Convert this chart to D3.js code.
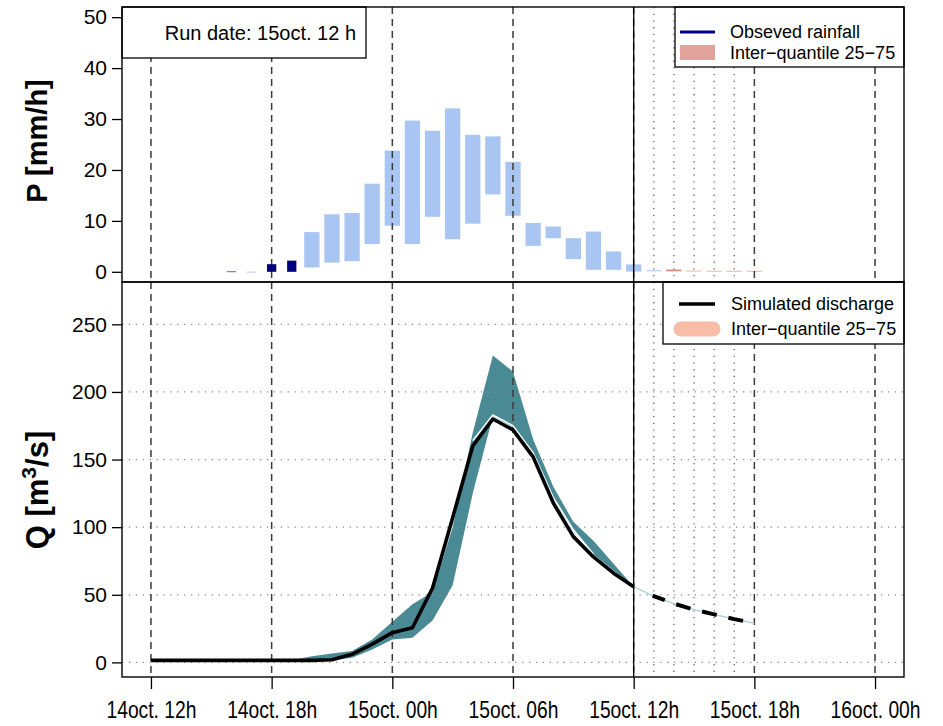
<!DOCTYPE html>
<html><head><meta charset="utf-8">
<script src="https://cdn.jsdelivr.net/npm/d3@7"></script>
<style>
body{margin:0;background:#fff;}
text{font-family:"Liberation Sans",Arial,Helvetica,sans-serif;fill:#000;}
</style>
</head><body><svg id="c" width="943" height="726"></svg>
<script>
// ---------------- data ----------------
const xTickHours = [0, 6, 12, 18, 24, 30, 36];           // hours since 14oct. 12h
const xTickLabels = ["14oct. 12h","14oct. 18h","15oct. 00h","15oct. 06h","15oct. 12h","15oct. 18h","16oct. 00h"];
const pTicks = [0, 10, 20, 30, 40, 50];
const qTicks = [0, 50, 100, 150, 200, 250];
const runHour = 24;
const dottedHours = [25, 26, 27, 28, 29];

// observed rainfall (mm/h)
const obsHours = [4, 5, 6, 7];
const obsRain  = [0.15, 0.05, 1.5, 2.2];

// rainfall inter-quantile 25-75 (past / nowcast, blue)
const pastHours = [8,9,10,11,12,13,14,15,16,17,18,19,20,21,22,23,24,25];
const pastQ25  = [0.85,1.8,2.1,5.45,9.05,5.45,10.8,6.4,9.45,15.2,11.0,5.1,6.6,2.5,0.4,0.4,0.05,0.1];
const pastQ75  = [7.8,11.3,11.55,17.3,23.8,29.7,27.7,32.1,26.9,26.6,21.6,9.6,8.9,6.6,7.9,4.0,1.45,0.3];

// rainfall inter-quantile 25-75 (forecast, pink)
const fcHours = [26, 27, 28, 29, 30];
const fcQ25   = [0.1, 0.1, 0.1, 0.1, 0.1];
const fcQ75   = [0.45, 0.25, 0.2, 0.2, 0.2];

// simulated discharge (m3/s)
const simHours = [0,1,2,3,4,5,6,7,8,9,10,11,12,13,14,15,16,17,18,19,20,21,22,23,24];
const simQ     = [1.5,1.5,1.5,1.5,1.5,1.5,1.5,1.5,1.5,2.0,6,13.5,22,25.6,55,107,160,180,172,152,118,93,78,66,56];

// forecast discharge
const fcSimHours = [24,25,26,27,28,29,30];
const fcSimQ     = [56,49,43.5,39,35.5,32,29];

// discharge inter-quantile band
const bandHours = [7,8,9,10,11,12,13,14,15,16,17,18,19,20,21,22,23,24];
const bandLow   = [1.5,1.5,1.5,3.4,9.6,17,18.2,31,57,125,182,174,154.6,121,97,80,68,56];
const bandHigh  = [1.5,4.5,6.5,8.5,17,30,43,52,100,170,227,215,165,130,104,90,73,56];

// white median trace
const medHours = [16,17,18,19,20,21,22];
const medQ     = [164,183,175,155,122,98,80];

// ---------------- layout ----------------
const svg = d3.select("#c");
const L = 122, R = 904;
const topY0 = 7, topY1 = 282, botY1 = 677;

const x = d3.scaleLinear().domain([-1.44, 37.44]).range([L, R]);
const yP = d3.scaleLinear().domain([-2, 52]).range([topY1, topY0]);
const yQ = d3.scaleLinear().domain([-10.8, 281.3]).range([botY1, topY1]);
const hw = 0.38; // half width of quantile bars (hours)
const ow = 0.23; // half width of observed bars
const dashPat = "7,5";

// ======== TOP PANEL ========
const gT = svg.append("g");
gT.selectAll("rect.past").data(pastHours).join("rect")
  .attr("x", (h) => x(h - hw)).attr("width", (h) => x(h + hw) - x(h - hw))
  .attr("y", (h, i) => yP(pastQ75[i]))
  .attr("height", (h, i) => Math.max(1, yP(pastQ25[i]) - yP(pastQ75[i])))
  .attr("fill", "#a9c6f3");
gT.selectAll("rect.fc").data(fcHours).join("rect")
  .attr("x", (h) => x(h - hw)).attr("width", (h) => x(h + hw) - x(h - hw))
  .attr("y", (h, i) => yP(fcQ75[i]))
  .attr("height", (h, i) => Math.max(1, yP(fcQ25[i]) - yP(fcQ75[i])))
  .attr("fill", (h, i) => i === 0 ? "#dc8c78" : "#efb6ae");

gT.selectAll("line.dash").data(xTickHours).join("line")
  .attr("x1", (h) => x(h)).attr("x2", (h) => x(h))
  .attr("y1", topY0).attr("y2", topY1)
  .attr("stroke", "#3a3a3a").attr("stroke-width", 1.5).attr("stroke-dasharray", dashPat);
gT.selectAll("line.dot").data(dottedHours).join("line")
  .attr("x1", (h) => x(h)).attr("x2", (h) => x(h))
  .attr("y1", topY0).attr("y2", topY1)
  .attr("stroke", "#666").attr("stroke-width", 1.3).attr("stroke-dasharray", "1.3,5.4");

gT.selectAll("rect.obs").data(obsHours).join("rect")
  .attr("x", (h) => x(h - ow)).attr("width", (h) => x(h + ow) - x(h - ow))
  .attr("y", (h, i) => yP(obsRain[i]))
  .attr("height", (h, i) => Math.max(1.2, yP(0) - yP(obsRain[i])))
  .attr("fill", "#00007f")
  .attr("opacity", (h, i) => obsRain[i] < 0.1 ? 0.2 : (obsRain[i] < 0.5 ? 0.5 : 1));

// ======== BOTTOM PANEL ========
const gB = svg.append("g");
const band = d3.area().x((d) => x(d[0])).y0((d) => yQ(d[1])).y1((d) => yQ(d[2]));
gB.append("path")
  .attr("d", band(bandHours.map((h, i) => [h, bandLow[i], bandHigh[i]])))
  .attr("fill", "#4a8a95");

gB.selectAll("line.hg").data(qTicks).join("line")
  .attr("x1", L).attr("x2", R)
  .attr("y1", (v) => yQ(v)).attr("y2", (v) => yQ(v))
  .attr("stroke", "#8a8a8a").attr("stroke-width", 1.3).attr("stroke-dasharray", "1.3,5.6");
gB.selectAll("line.dash").data(xTickHours).join("line")
  .attr("x1", (h) => x(h)).attr("x2", (h) => x(h))
  .attr("y1", topY1).attr("y2", botY1)
  .attr("stroke", "#3a3a3a").attr("stroke-width", 1.5).attr("stroke-dasharray", dashPat);
gB.selectAll("line.dot").data(dottedHours).join("line")
  .attr("x1", (h) => x(h)).attr("x2", (h) => x(h))
  .attr("y1", topY1).attr("y2", botY1)
  .attr("stroke", "#666").attr("stroke-width", 1.3).attr("stroke-dasharray", "1.3,5.4");

svg.append("line").attr("x1", x(runHour)).attr("x2", x(runHour))
  .attr("y1", topY0).attr("y2", botY1).attr("stroke", "#000").attr("stroke-width", 1.3);

const line = d3.line().x((d) => x(d[0])).y((d) => yQ(d[1]));
gB.append("path").attr("d", line(fcSimHours.map((h, i) => [h, fcSimQ[i]])))
  .attr("fill", "none").attr("stroke", "#a9d0d3").attr("stroke-width", 1.2);
gB.append("path").attr("d", line(medHours.map((h, i) => [h, medQ[i]])))
  .attr("fill", "none").attr("stroke", "#fff").attr("stroke-width", 1.6);
gB.append("path").attr("d", line(simHours.map((h, i) => [h, simQ[i]])))
  .attr("fill", "none").attr("stroke", "#000").attr("stroke-width", 3.6)
  .attr("stroke-linejoin", "round");
gB.append("path").attr("d", line(fcSimHours.map((h, i) => [h, fcSimQ[i]])))
  .attr("fill", "none").attr("stroke", "#000").attr("stroke-width", 4)
  .attr("stroke-dasharray", "0,21,13,12,15,12,15,12,15,12");

// ======== BOXES & LEGENDS ========
svg.append("rect").attr("x", L).attr("y", topY0).attr("width", 244).attr("height", 51)
  .attr("fill", "#fff").attr("stroke", "#000").attr("stroke-width", 1.3);
svg.append("text").attr("x", 356).attr("y", 40).attr("text-anchor", "end")
  .attr("font-size", 20).text("Run date: 15oct. 12 h");

const lg1 = svg.append("g");
lg1.append("rect").attr("x", 675).attr("y", topY0).attr("width", R - 675).attr("height", 60)
  .attr("fill", "#fff").attr("stroke", "#000").attr("stroke-width", 1.3);
lg1.append("line").attr("x1", 680).attr("x2", 715).attr("y1", 32).attr("y2", 32)
  .attr("stroke", "#00008b").attr("stroke-width", 3);
lg1.append("text").attr("x", 730).attr("y", 38).attr("font-size", 18).text("Obseved rainfall");
lg1.append("rect").attr("x", 680).attr("y", 45).attr("width", 35).attr("height", 15).attr("fill", "#e3a19b");
lg1.append("text").attr("x", 730).attr("y", 59).attr("font-size", 18).text("Inter\u2212quantile 25\u221275");

const lg2 = svg.append("g");
lg2.append("rect").attr("x", 663).attr("y", topY1).attr("width", R - 663).attr("height", 62)
  .attr("fill", "#fff").attr("stroke", "#000").attr("stroke-width", 1.3);
lg2.append("line").attr("x1", 679).attr("x2", 715).attr("y1", 304).attr("y2", 304)
  .attr("stroke", "#000").attr("stroke-width", 3.5);
lg2.append("text").attr("x", 731).attr("y", 310).attr("font-size", 18).text("Simulated discharge");
lg2.append("line").attr("x1", 681).attr("x2", 713).attr("y1", 329).attr("y2", 329)
  .attr("stroke", "#f9bca6").attr("stroke-width", 15).attr("stroke-linecap", "round");
lg2.append("text").attr("x", 731).attr("y", 335).attr("font-size", 18).text("Inter\u2212quantile 25\u221275");

svg.append("rect").attr("x", L).attr("y", topY0).attr("width", R - L).attr("height", topY1 - topY0)
  .attr("fill", "none").attr("stroke", "#000").attr("stroke-width", 1.4);
svg.append("rect").attr("x", L).attr("y", topY1).attr("width", R - L).attr("height", botY1 - topY1)
  .attr("fill", "none").attr("stroke", "#000").attr("stroke-width", 1.4);

// ======== AXES ========
const axP = svg.append("g").attr("transform", `translate(${L},0)`)
  .call(d3.axisLeft(yP).tickValues(pTicks).tickSize(10).tickPadding(5));
const axQ = svg.append("g").attr("transform", `translate(${L},0)`)
  .call(d3.axisLeft(yQ).tickValues(qTicks).tickSize(10).tickPadding(5));
const axX = svg.append("g").attr("transform", `translate(0,${botY1})`)
  .call(d3.axisBottom(x).tickValues(xTickHours).tickSize(12).tickPadding(12)
    .tickFormat((d, i) => xTickLabels[i]));
[axP, axQ, axX].forEach((a) => {
  a.select(".domain").remove();
  a.selectAll(".tick line").attr("stroke", "#000").attr("stroke-width", 1.3);
  a.selectAll("text").attr("font-family", "Liberation Sans, Arial, sans-serif")
    .attr("fill", "#000");
});
axP.selectAll("text").attr("font-size", 21);
axQ.selectAll("text").attr("font-size", 21);
axX.selectAll("text").attr("font-size", 24).attr("textLength", 90)
  .attr("lengthAdjust", "spacingAndGlyphs").attr("dy", "0.71em");

// axis titles
svg.append("text").attr("transform", "translate(47,141) rotate(-90)")
  .attr("text-anchor", "middle").attr("font-size", 29).attr("font-weight", "bold")
  .text("P [mm/h]");
const qt = svg.append("text").attr("transform", "translate(48,490) rotate(-90)")
  .attr("text-anchor", "middle").attr("font-size", 31).attr("font-weight", "bold");
qt.append("tspan").text("Q [m");
qt.append("tspan").attr("font-size", 21).attr("dy", -12).text("3");
qt.append("tspan").attr("dy", 12).text("/s]");
</script>
</body></html>
